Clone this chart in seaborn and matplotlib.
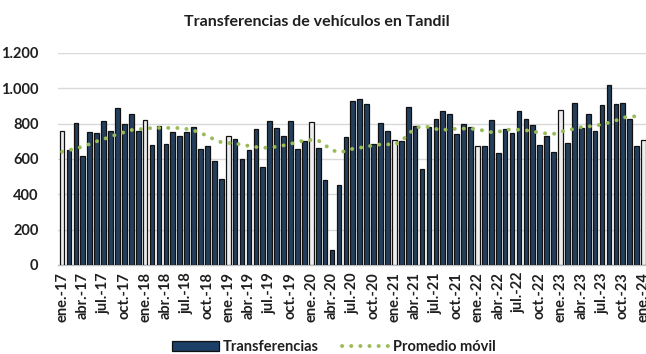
import matplotlib
matplotlib.use("Agg")
import matplotlib.pyplot as plt
from matplotlib.patches import Patch
from matplotlib.lines import Line2D
import numpy as np
import pandas as pd
import seaborn as sns

# Monthly vehicle transfers, Jan 2017 - Jan 2024
meses = ["ene.", "feb.", "mar.", "abr.", "may.", "jun.",
         "jul.", "ago.", "sep.", "oct.", "nov.", "dic."]
anios = [17, 18, 19, 20, 21, 22, 23, 24]

transferencias = [
    758, 651, 806, 617, 751, 745, 817, 758, 887, 800, 853, 758,   # 2017
    823, 679, 787, 687, 753, 728, 753, 781, 658, 675, 589, 489,   # 2018
    730, 715, 600, 653, 770, 553, 817, 775, 728, 817, 658, 700,   # 2019
    811, 664, 483, 87, 451, 723, 930, 941, 913, 687, 806, 758,    # 2020
    709, 704, 893, 787, 545, 781, 828, 870, 853, 740, 800, 781,   # 2021
    675, 675, 823, 634, 770, 745, 870, 828, 792, 681, 728, 640,   # 2022
    875, 692, 917, 775, 853, 758, 906, 1017, 913, 917, 828, 675,  # 2023
    706,                                                          # 2024
]

# 12-month moving average (Jan 2017 - Dec 2023)
promedio_movil = [
    641, 650, 660, 670, 685, 700, 712, 727, 740, 752, 764, 767,
    773, 775, 776, 776, 776, 775, 770, 762, 747, 731, 710, 695,
    690, 691, 677, 675, 668, 663, 665, 670, 677, 686, 695, 706,
    708, 705, 678, 650, 638, 645, 658, 663, 672, 675, 683, 683,
    681, 700, 740, 775, 785, 781, 770, 766, 766, 772, 772, 772,
    768, 760, 752, 753, 766, 766, 766, 763, 755, 750, 744, 742,
    754, 762, 771, 780, 784, 788, 796, 806, 818, 834, 840, 842,
]

etiquetas = [f"{m}-{a}" for a in anios for m in meses][:len(transferencias)]

df = pd.DataFrame({
    "pos": range(len(transferencias)),
    "etiqueta": etiquetas,
    "valor": transferencias,
    "enero": [e.startswith("ene.") for e in etiquetas],
})
df_mm = pd.DataFrame({"pos": range(len(promedio_movil)), "mm": promedio_movil})

AZUL = "#1B3F66"
GRIS_ENERO = "#EDEDED"
VERDE = "#9BBB59"
TEXTO = "#1F1F1F"
PUNTEADO = (0, (0.05, 2.3))

sns.set_theme(style="white")
plt.rcParams["font.family"] = ["Lato", "DejaVu Sans"]
plt.rcParams["font.weight"] = "bold"

fig = plt.figure(figsize=(6.46, 3.54), dpi=100)
ax = fig.add_axes([58 / 646, 89 / 354, 588 / 646, 212 / 354])

sns.barplot(data=df, x="pos", y="valor", hue="enero",
            palette={False: AZUL, True: GRIS_ENERO}, dodge=False,
            width=0.68, edgecolor="#111111", linewidth=0.9,
            legend=False, ax=ax, zorder=3)

sns.lineplot(data=df_mm, x="pos", y="mm", ax=ax, color=VERDE,
             linewidth=2.8, linestyle=PUNTEADO,
             dash_capstyle="round", zorder=4)

ax.set_ylim(0, 1200)
ax.set_xlim(-0.58, 84.35)
ax.set_yticks(range(0, 1201, 200))
ax.set_yticklabels([f"{v:,}".replace(",", ".") for v in range(0, 1201, 200)],
                   fontsize=10.5, fontweight="bold", color=TEXTO)
ticks = list(range(0, len(etiquetas), 3))
ax.set_xticks(ticks)
ax.set_xticklabels([etiquetas[i] for i in ticks], rotation=90,
                   fontsize=10.5, fontweight="bold", color=TEXTO)
ax.tick_params(axis="both", length=0, pad=5)
ax.tick_params(axis="y", pad=14)
ax.set_xlabel("")
ax.set_ylabel("")

ax.grid(axis="y", color="#D9D9D9", linewidth=1.0, zorder=0)
ax.grid(axis="x", visible=False)
for s in ["top", "right", "left"]:
    ax.spines[s].set_visible(False)
ax.spines["bottom"].set_color("#BFBFBF")
ax.spines["bottom"].set_linewidth(1.0)

fig.text(317 / 646, 1 - 22 / 354, "Transferencias de vehículos en Tandil",
         ha="center", va="center", fontsize=11.5, fontweight="bold", color=TEXTO)

handles = [
    Patch(facecolor=AZUL, edgecolor="#111111", linewidth=0.9, label="Transferencias"),
    Line2D([0], [0], color=VERDE, linewidth=2.8, linestyle=PUNTEADO,
           dash_capstyle="round", label="Promedio móvil"),
]
leg = fig.legend(handles=handles, loc="center", bbox_to_anchor=(334 / 646, 1 - 347 / 354),
                 ncol=2, frameon=False, fontsize=10.5, handlelength=3.2,
                 handleheight=0.7, columnspacing=1.6, handletextpad=0.3)
for t in leg.get_texts():
    t.set_fontweight("bold")
    t.set_color(TEXTO)

fig.savefig("out.png", dpi=100)
